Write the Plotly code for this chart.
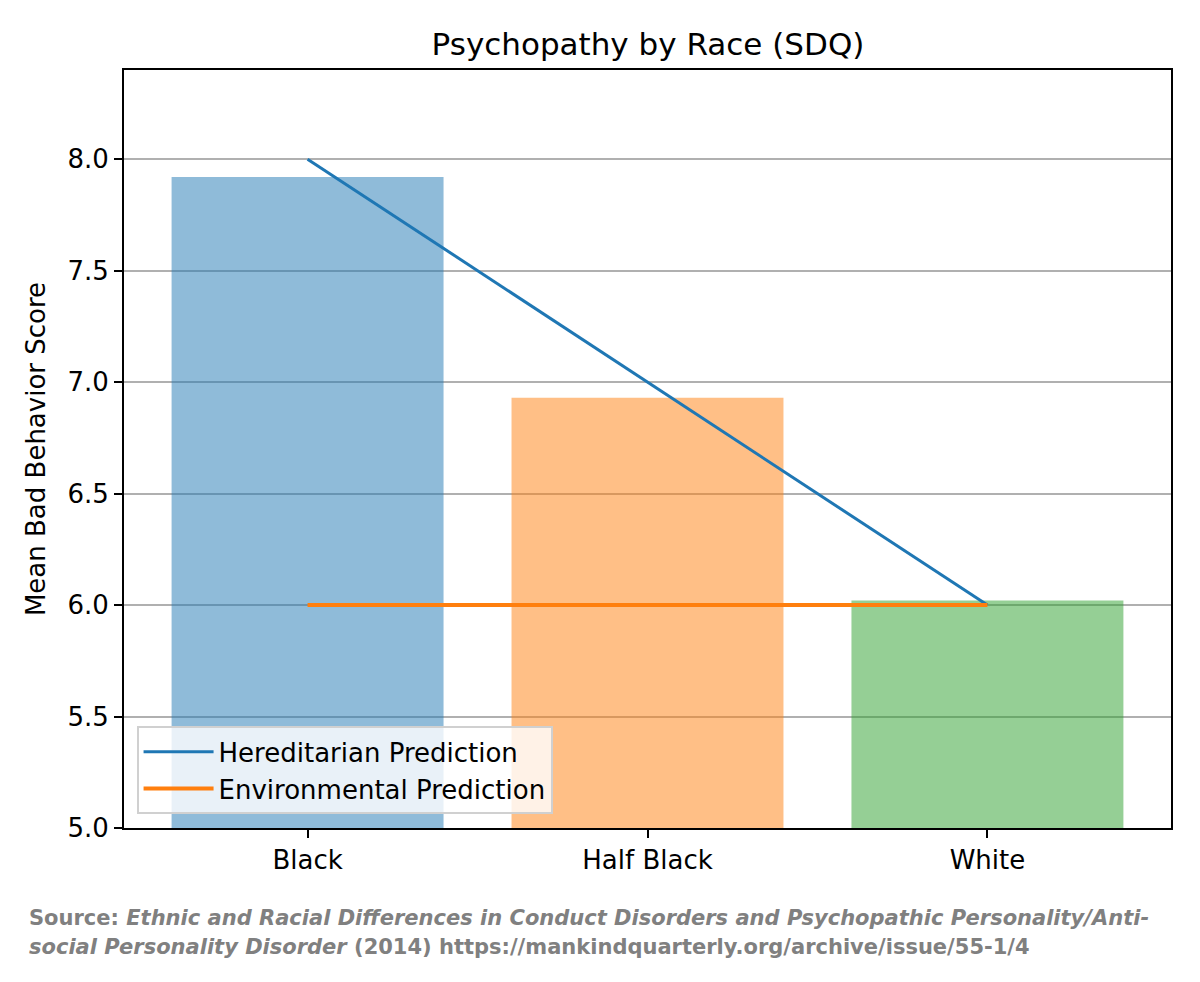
import plotly.graph_objects as go

# data
groups = ["Black", "Half Black", "White"]
mean_scores = [7.92, 6.93, 6.02]
bar_colors = ["rgba(31,119,180,0.5)", "rgba(255,127,14,0.5)", "rgba(44,160,44,0.5)"]

hered_x = ["Black", "White"]
hered_y = [8.0, 6.0]
env_x = ["Black", "White"]
env_y = [6.0, 6.0]

y_ticks = [5.0, 5.5, 6.0, 6.5, 7.0, 7.5, 8.0]

source_line1 = ("<b>Source: <i>Ethnic and Racial Differences in Conduct Disorders "
                "and Psychopathic Personality/Anti-</i></b>")
source_line2 = ("<b><i>social Personality Disorder</i> (2014) "
                "https://mankindquarterly.org/archive/issue/55-1/4</b>")

fig = go.Figure()

fig.add_trace(go.Bar(
    x=groups, y=mean_scores,
    marker=dict(color=bar_colors, line=dict(width=0)),
    width=0.8, showlegend=False
))

fig.add_trace(go.Scatter(
    x=hered_x, y=hered_y, mode="lines",
    name="Hereditarian Prediction",
    line=dict(color="#1f77b4", width=3)
))
fig.add_trace(go.Scatter(
    x=env_x, y=env_y, mode="lines",
    name="Environmental Prediction",
    line=dict(color="#ff7f0e", width=4)
))

axis_font = dict(family="DejaVu Sans", size=26, color="black")

fig.update_layout(
    width=1200, height=982,
    paper_bgcolor="white", plot_bgcolor="white",
    margin=dict(l=124, r=29, t=70, b=154),
    title=dict(text="Psychopathy by Race (SDQ)", x=0.54, xanchor="center",
               y=0.955, yanchor="middle",
               font=dict(family="DejaVu Sans", size=31, color="black")),
    xaxis=dict(
        type="category", range=[-0.54, 2.54],
        showline=True, linecolor="black", linewidth=2, mirror=True,
        ticks="outside", ticklen=8, tickwidth=2, tickcolor="black",
        tickfont=axis_font, showgrid=False
    ),
    yaxis=dict(
        range=[5.0, 8.4], tickvals=y_ticks,
        ticktext=[f"{v:.1f}" for v in y_ticks],
        showline=True, linecolor="black", linewidth=2, mirror=True,
        ticks="outside", ticklen=8, tickwidth=2, tickcolor="black",
        tickfont=axis_font, showgrid=True, gridcolor="#b0b0b0", gridwidth=2,
        zeroline=False,
        title=dict(text="Mean Bad Behavior Score", font=axis_font, standoff=14)
    ),
    legend=dict(
        x=0.012, y=0.018, xanchor="left", yanchor="bottom",
        bgcolor="rgba(255,255,255,0.8)", bordercolor="#d0d0d0", borderwidth=2,
        font=axis_font, tracegroupgap=0, itemwidth=70
    ),
    bargap=0.2,
    annotations=[
        dict(text=source_line1, xref="paper", yref="paper", x=-0.0927, y=-0.119,
             xanchor="left", yanchor="middle", showarrow=False,
             font=dict(family="DejaVu Sans", size=21, color="#808080")),
        dict(text=source_line2, xref="paper", yref="paper", x=-0.0927, y=-0.157,
             xanchor="left", yanchor="middle", showarrow=False,
             font=dict(family="DejaVu Sans", size=21, color="#808080")),
    ]
)

# drop the default page margin so the figure sits at the window origin
fig.write_html("out.html",
               config={"displayModeBar": False},
               post_script="document.body.style.margin='0px';"
                           "document.body.style.overflow='hidden';")
